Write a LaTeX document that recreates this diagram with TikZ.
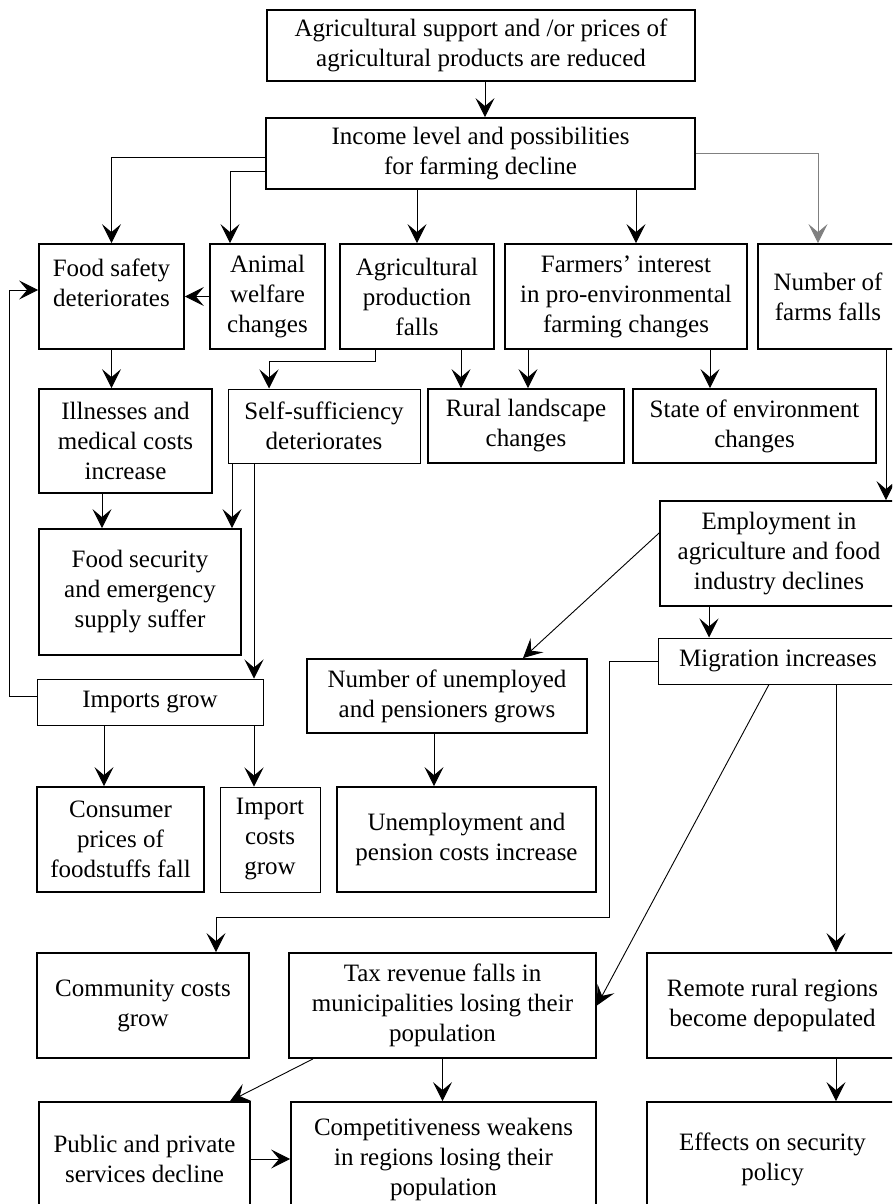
\documentclass[tikz,border=0pt]{standalone}
\usepackage{fontspec}
\setmainfont{Liberation Serif}
\usetikzlibrary{arrows.meta}

\tikzset{
  box/.style={draw, line width=1.8pt, align=center, inner sep=0pt, font=\fontsize{25}{30}\selectfont},
  lightbox/.style={box, line width=1pt},
  link/.style={line width=0.9pt, -{Stealth[length=19pt,width=19pt,inset=8pt]}}
}

\begin{document}
\begin{tikzpicture}[x=1pt, y=-1pt]
\useasboundingbox (0,0) rectangle (892,1204);
\clip (0,0) rectangle (892,1204);

\node[box, minimum width=428pt, minimum height=71pt] (cut) at (481,45.5) {Agricultural support and /or prices of\\agricultural products are reduced};
\node[box, minimum width=429pt, minimum height=71pt] (income) at (480.5,153.5) {Income level and possibilities\\for farming decline};

\node[box, minimum width=145pt, minimum height=105pt] (safety) at (111.5,296.5) {Food safety\\deteriorates\\[-2pt]\mbox{}};
\node[box, minimum width=115pt, minimum height=105pt] (welfare) at (267.5,296.5) {Animal\\welfare\\changes};
\node[box, minimum width=154pt, minimum height=105pt] (production) at (417,296.5) {Agricultural\\production\\falls};
\node[box, minimum width=242pt, minimum height=105pt] (interest) at (626,296.5) {Farmers' interest\\in pro-environmental\\farming changes};
\node[box, minimum width=140pt, minimum height=105pt] (farms) at (828,296.5) {Number of\\farms falls};

\node[box, minimum width=173pt, minimum height=104pt] (illness) at (125.5,441) {Illnesses and\\medical costs\\increase};
\node[lightbox, minimum width=192pt, minimum height=74pt] (selfsuff) at (324,426) {Self-sufficiency\\deteriorates};
\node[box, minimum width=196pt, minimum height=74pt] (landscape) at (526,426) {Rural landscape\\changes};
\node[box, minimum width=243pt, minimum height=74pt] (environment) at (754.5,426) {State of environment\\changes};

\node[box, minimum width=202pt, minimum height=126pt] (security) at (140,592) {Food security\\and emergency\\supply suffer};
\node[box, minimum width=238pt, minimum height=105pt] (employment) at (779,553.5) {Employment in\\agriculture and food\\industry declines};
\node[lightbox, minimum width=240pt, minimum height=46pt] (migration) at (778,661) {Migration increases};
\node[lightbox, minimum width=226pt, minimum height=46pt] (imports) at (150,702) {Imports grow};
\node[box, minimum width=280pt, minimum height=74pt] (unemployed) at (447,696) {Number of unemployed\\and pensioners grows};

\node[box, minimum width=167pt, minimum height=105pt] (consumer) at (120.5,839.5) {Consumer\\prices of\\foodstuffs fall};
\node[lightbox, minimum width=100pt, minimum height=105pt] (importcost) at (270,839.5) {Import\\costs\\grow};
\node[box, minimum width=259pt, minimum height=105pt] (pension) at (466.5,839.5) {Unemployment and\\pension costs increase};

\node[box, minimum width=212pt, minimum height=105pt] (community) at (143,1005.5) {Community costs\\grow};
\node[box, minimum width=307pt, minimum height=105pt] (tax) at (442.5,1005.5) {Tax revenue falls in\\municipalities losing their\\population};
\node[box, minimum width=251pt, minimum height=105pt] (remote) at (772.5,1005.5) {Remote rural regions\\become depopulated};

\node[box, minimum width=211pt, minimum height=114pt] (services) at (144.5,1159) {Public and private\\services decline};
\node[box, minimum width=305pt, minimum height=114pt] (compete) at (443.5,1159) {Competitiveness weakens\\in regions losing their\\population};
\node[box, minimum width=251pt, minimum height=114pt] (policy) at (772.5,1159) {Effects on security\\policy};

\draw[link] ([xshift=4pt]cut.south) -- ([xshift=4pt]cut.south |- income.north);
\draw[link] ([yshift=-3.5pt]income.west) -| (safety.north);
\draw[link] ([yshift=-17.5pt]income.west) -| ([xshift=-37.5pt]welfare.north);
\draw[link] (production.north |- income.south) -- (production.north);
\draw[link] ([xshift=10pt]interest.north |- income.south) -- ([xshift=10pt]interest.north);
\draw[link, gray] (income.east) -| ([xshift=-10pt]farms.north);
\draw[link] (welfare.west) -- (welfare.west -| safety.east);
\draw[link] ([yshift=6pt]imports.west) -- ++(-27,0) |- ([yshift=6.5pt]safety.west);
\draw[link] (safety.south) -- (safety.south |- illness.north);
\draw[link] ([xshift=-42pt]production.south) -- ++(0,12) -| ([xshift=-55pt]selfsuff.north);
\draw[link] ([xshift=44pt]production.south) -- ([xshift=-65pt]landscape.north);
\draw[link] ([xshift=-98pt]interest.south) -- ([xshift=2pt]landscape.north);
\draw[link] ([xshift=84pt]interest.south) -- ([xshift=-44.5pt]environment.north);
\draw[link] ([xshift=58pt]farms.south) -- ([xshift=107pt]employment.north);
\draw[link] ([xshift=-23.5pt]illness.south) -- ([xshift=-38pt]security.north);
\draw[link] ([xshift=-92pt]selfsuff.south) -- ([xshift=92pt]security.north);
\draw[link] ([xshift=-70pt]selfsuff.south) -- ([xshift=104pt]imports.north);
\draw[link] ([yshift=20.5pt]employment.west) -- ([xshift=76pt]unemployed.north);
\draw[link] ([xshift=-70pt]employment.south) -- ([xshift=-69pt]migration.north);
\draw[link] ([xshift=-46pt]imports.south) -- ([xshift=-16.5pt]consumer.north);
\draw[link] ([xshift=104pt]imports.south) -- ([xshift=-16pt]importcost.north);
\draw[link] ([xshift=-13pt]unemployed.south) -- ([xshift=-32.5pt]pension.north);
\draw[link] (migration.west) -- ++(-48,0) -- ++(0,256) -| ([xshift=73pt]community.north);
\draw[link] ([xshift=-9pt]migration.south) -- (tax.east);
\draw[link] ([xshift=58pt]migration.south) -- ([xshift=63.5pt]remote.north);
\draw[link] ([xshift=-129.5pt]tax.south) -- ([xshift=85.5pt]services.north);
\draw[link] (tax.south) -- (tax.south |- compete.north);
\draw[link] ([xshift=63.5pt]remote.south) -- ([xshift=63.5pt]policy.north);
\draw[link] (services.east) -- (services.east -| compete.west);
\end{tikzpicture}
\end{document}
